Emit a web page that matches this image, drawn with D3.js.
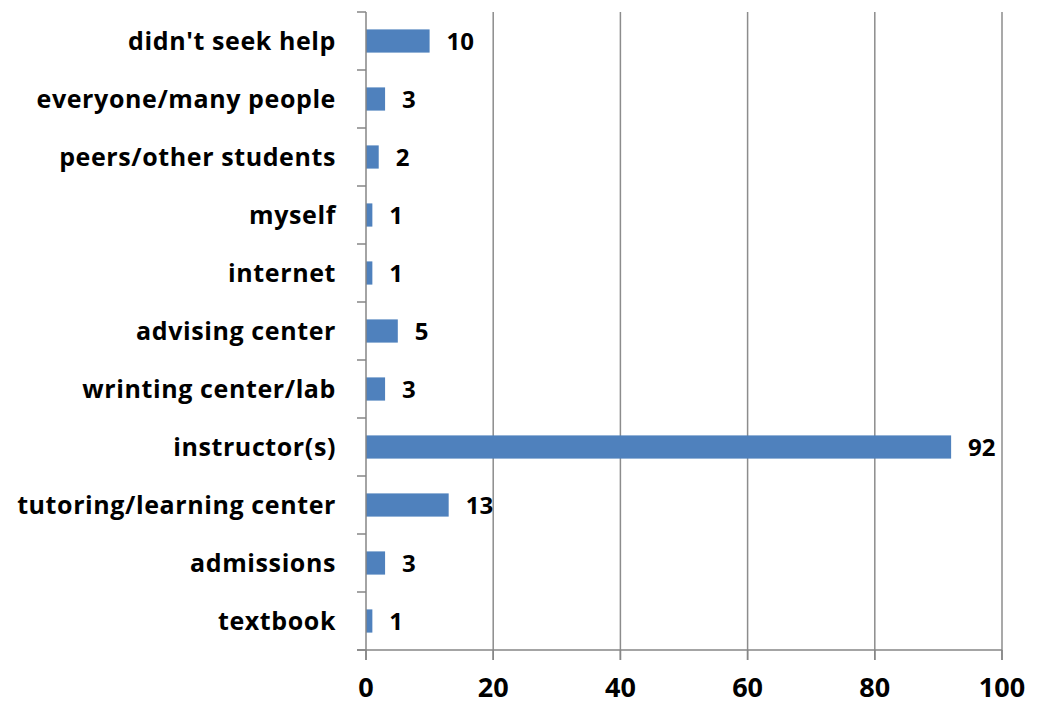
<!DOCTYPE html>
<html>
<head>
<meta charset="utf-8">
<script src="https://cdn.jsdelivr.net/npm/d3@7"></script>
<style>
  body { margin: 0; background: #fff; }
  text { font-family: "Open Sans", sans-serif; font-weight: bold; fill: #000; }
</style>
</head>
<body>
<svg id="chart"></svg>
<script>
var width = 1042;
var height = 703;

// data, top to bottom
var categories = ["didn't seek help", "everyone/many people", "peers/other students", "myself",
  "internet", "advising center", "wrinting center/lab", "instructor(s)",
  "tutoring/learning center", "admissions", "textbook"];
var counts = [10, 3, 2, 1, 1, 5, 3, 92, 13, 3, 1];
var xTicks = [0, 20, 40, 60, 80, 100];

var margin = {top: 12, right: 40, bottom: 53, left: 366};
var svg = d3.select("#chart").attr("width", width).attr("height", height);
var g = svg.append("g").attr("transform", "translate(" + margin.left + "," + margin.top + ")");
var plotW = 1002 - margin.left;
var plotH = height - margin.top - margin.bottom;

var x = d3.scaleLinear().domain([0, 100]).range([0, plotW]);
var y = d3.scaleBand().domain(categories).range([0, plotH]).paddingInner(0.6).paddingOuter(0.3);
var band = plotH / categories.length;

// gridlines
g.selectAll(".grid").data(xTicks.slice(1)).enter().append("line")
  .attr("x1", function(d) { return x(d); })
  .attr("x2", function(d) { return x(d); })
  .attr("y1", 0).attr("y2", plotH + 10)
  .attr("stroke", "#8c8c8c").attr("stroke-width", 1.5);

// bars
g.selectAll(".bar").data(counts).enter().append("rect")
  .attr("x", 0)
  .attr("y", function(d, i) { return y(categories[i]); })
  .attr("width", function(d) { return x(d); })
  .attr("height", y.bandwidth())
  .attr("fill", "#4F81BD");

// value labels
g.selectAll(".val").data(counts).enter().append("text")
  .attr("x", function(d) { return x(d) + 17; })
  .attr("y", function(d, i) { return y(categories[i]) + y.bandwidth() / 2; })
  .attr("dy", "0.36em")
  .style("font-size", "24px")
  .text(function(d) { return d; });

// y axis
g.append("line").attr("x1", 0).attr("x2", 0).attr("y1", 0).attr("y2", plotH + 10)
  .attr("stroke", "#868686").attr("stroke-width", 1.5);
g.selectAll(".ytick").data(d3.range(categories.length + 1)).enter().append("line")
  .attr("x1", -9).attr("x2", 0)
  .attr("y1", function(d) { return d * band; })
  .attr("y2", function(d) { return d * band; })
  .attr("stroke", "#868686").attr("stroke-width", 1.5);
g.selectAll(".cat").data(categories).enter().append("text")
  .attr("x", -30)
  .attr("y", function(d) { return y(d) + y.bandwidth() / 2; })
  .attr("dy", "0.36em")
  .attr("text-anchor", "end")
  .style("font-size", "25px")
  .style("letter-spacing", "0.6px")
  .text(function(d) { return d; });

// x axis
g.append("line").attr("x1", -9).attr("x2", plotW).attr("y1", plotH).attr("y2", plotH)
  .attr("stroke", "#868686").attr("stroke-width", 1.5);
g.selectAll(".xtick").data(xTicks).enter().append("line")
  .attr("x1", function(d) { return x(d); })
  .attr("x2", function(d) { return x(d); })
  .attr("y1", plotH).attr("y2", plotH + 10)
  .attr("stroke", "#868686").attr("stroke-width", 1.5);
g.selectAll(".xlab").data(xTicks).enter().append("text")
  .attr("x", function(d) { return x(d); })
  .attr("y", plotH + 37)
  .attr("dy", "0.36em")
  .attr("text-anchor", "middle")
  .style("font-size", "27px")
  .text(function(d) { return d; });
</script>
</body>
</html>
